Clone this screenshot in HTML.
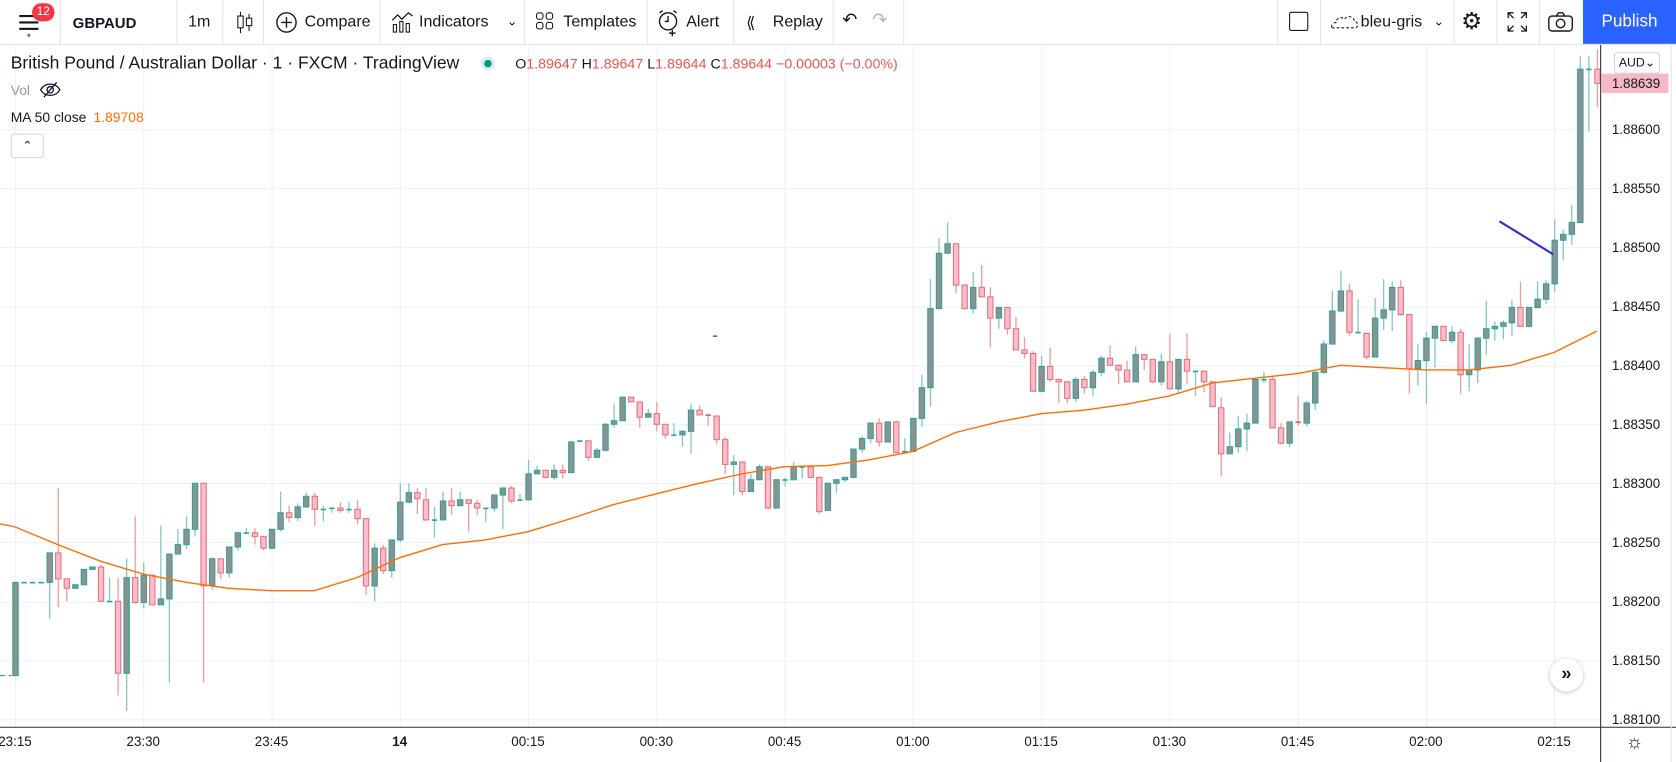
<!DOCTYPE html>
<html><head><meta charset="utf-8">
<style>
html,body{margin:0;padding:0;background:#fff;overflow:hidden;}
#root{position:absolute;left:0;top:0;width:1568px;height:713px;transform:scale(1.06888,1.06872);transform-origin:0 0;font-family:"Liberation Sans",sans-serif;color:#131722;}
.tb{position:absolute;left:0;top:0;width:1568px;height:41px;border-bottom:1px solid #e0e3eb;background:#fff;}
.sep{position:absolute;top:0;width:1px;height:41px;background:#e0e3eb;}
.tt{position:absolute;top:12px;font-size:15px;color:#131722;white-space:nowrap;}
.ico{position:absolute;}
.lg{position:absolute;white-space:nowrap;}
</style></head>
<body>
<div id="root">
<div class="tb">
  <svg class="ico" style="left:16px;top:10px" width="40" height="26"><rect x="2" y="4" width="18" height="2" fill="#131722"/><rect x="2" y="10" width="18" height="2" fill="#131722"/><rect x="2" y="16" width="18" height="2" fill="#131722"/><circle cx="11" cy="23" r="1.5" fill="#787b86"/></svg>
  <div style="position:absolute;left:30px;top:3px;width:21px;height:17px;border-radius:9px;background:#f23645;color:#fff;font-size:11px;text-align:center;line-height:17px;">12</div>
  <div class="sep" style="left:56px"></div>
  <div class="tt" style="left:68px;font-weight:bold;font-size:14px;top:13px">GBPAUD</div>
  <div class="sep" style="left:165px"></div>
  <div class="tt" style="left:176px">1m</div>
  <div class="sep" style="left:208px"></div>
  <svg class="ico" style="left:220px;top:10px" width="18" height="22"><line x1="5" y1="1" x2="5" y2="21" stroke="#131722"/><rect x="2.5" y="5" width="5" height="11" fill="#fff" stroke="#131722"/><line x1="13" y1="3" x2="13" y2="19" stroke="#131722"/><rect x="10.5" y="7" width="5" height="7" fill="#fff" stroke="#131722"/></svg>
  <div class="sep" style="left:246px"></div>
  <svg class="ico" style="left:257px;top:10px" width="22" height="22"><circle cx="11" cy="11" r="9" fill="none" stroke="#131722" stroke-width="1.3"/><path d="M11 6v10M6 11h10" stroke="#131722" stroke-width="1.3"/></svg>
  <div class="tt" style="left:285px">Compare</div>
  <div class="sep" style="left:355px"></div>
  <svg class="ico" style="left:366px;top:9px" width="22" height="22"><path d="M1 10l5-5 4 4 6-6 4 3" fill="none" stroke="#131722" stroke-width="1.2"/><rect x="2" y="14" width="3" height="7" fill="none" stroke="#131722"/><rect x="8" y="11" width="3" height="10" fill="none" stroke="#131722"/><rect x="14" y="13" width="3" height="8" fill="none" stroke="#131722"/></svg>
  <div class="tt" style="left:392px">Indicators</div>
  <div class="tt" style="left:474px;font-size:12px;top:13px">&#8964;</div>
  <div class="sep" style="left:490px"></div>
  <svg class="ico" style="left:501px;top:11px" width="18" height="18"><rect x="1" y="1" width="6" height="6" rx="2" fill="none" stroke="#131722"/><rect x="10" y="1" width="6" height="6" rx="2" fill="none" stroke="#131722"/><rect x="1" y="10" width="6" height="6" rx="2" fill="none" stroke="#131722"/><rect x="10" y="10" width="6" height="6" rx="2" fill="none" stroke="#131722"/></svg>
  <div class="tt" style="left:527px">Templates</div>
  <div class="sep" style="left:605px"></div>
  <svg class="ico" style="left:614px;top:8px" width="24" height="26"><circle cx="11" cy="12" r="8" fill="none" stroke="#131722" stroke-width="1.3"/><path d="M11 7v5h-3M3 4l3-2M19 4l-3-2M15 20v6M12 23h6" stroke="#131722" stroke-width="1.3" fill="none"/></svg>
  <div class="tt" style="left:642px">Alert</div>
  <div class="sep" style="left:686px"></div>
  <div class="tt" style="left:698px;letter-spacing:-3px">&#10216;&#10216;</div>
  <div class="tt" style="left:723px">Replay</div>
  <div class="sep" style="left:779px"></div>
  <div class="tt" style="left:788px;font-size:17px;top:9px">&#8630;</div>
  <div class="tt" style="left:816px;font-size:17px;top:9px;color:#b2b5be">&#8631;</div>
  <div class="sep" style="left:845px"></div>
  <div class="sep" style="left:1195px"></div>
  <div style="position:absolute;left:1206px;top:11px;width:16px;height:16px;border:1.5px solid #131722;border-radius:2px"></div>
  <div class="sep" style="left:1235px"></div>
  <svg class="ico" style="left:1243px;top:11px" width="28" height="18"><path d="M3 15h22c3 0 3-6-1-6 0-5-7-6-9-2-3-3-8-1-8 3-4 0-5 5-4 5z" fill="none" stroke="#131722" stroke-dasharray="2.5 2"/></svg>
  <div class="tt" style="left:1273px">bleu-gris</div>
  <div class="tt" style="left:1341px;font-size:12px;top:13px">&#8964;</div>
  <div class="sep" style="left:1360px"></div>
  <div class="tt" style="left:1367px;font-size:22px;top:7px">&#9881;</div>
  <div class="sep" style="left:1400px"></div>
  <svg class="ico" style="left:1410px;top:11px" width="19" height="19"><path d="M1 6V1h5M1 1l5 5M18 6V1h-5M18 1l-5 5M1 13v5h5M1 18l5-5M18 13v5h-5M18 18l-5-5" fill="none" stroke="#131722" stroke-width="1.2"/></svg>
  <div class="sep" style="left:1440px"></div>
  <svg class="ico" style="left:1448px;top:11px" width="24" height="19"><rect x="1" y="4" width="22" height="14" rx="3" fill="none" stroke="#131722" stroke-width="1.3"/><circle cx="12" cy="11" r="4" fill="none" stroke="#131722" stroke-width="1.3"/><path d="M8 4l2-3h4l2 3" fill="none" stroke="#131722" stroke-width="1.3"/></svg>
  <div style="position:absolute;left:1481px;top:0;width:87px;height:41px;background:#2962ff;color:#fff;font-size:16px;text-align:center;line-height:41px;">Publish</div>
</div>

<svg id="chart" style="position:absolute;left:0;top:0" width="1568" height="713"></svg>

<div class="lg" style="left:10px;top:50px;font-size:16.4px">British Pound / Australian Dollar · 1 · FXCM · TradingView</div>
<div style="position:absolute;left:450px;top:53px;width:13px;height:13px;border-radius:7px;background:#d8efec"><div style="position:absolute;left:3px;top:3px;width:7px;height:7px;border-radius:4px;background:#089981"></div></div>
<div class="lg" style="left:482px;top:52px;font-size:13.3px;color:#ef5350"><span style="color:#131722">O</span>1.89647 <span style="color:#131722">H</span>1.89647 <span style="color:#131722">L</span>1.89644 <span style="color:#131722">C</span>1.89644 −0.00003 (−0.00%)</div>
<div class="lg" style="left:10px;top:77px;font-size:13px;color:#9598a1">Vol</div>
<svg class="ico" style="left:37px;top:76px;position:absolute" width="20" height="16"><path d="M1 8c4-7 14-7 18 0-4 7-14 7-18 0z" fill="none" stroke="#131722" stroke-width="1.2"/><circle cx="10" cy="8" r="3" fill="none" stroke="#131722" stroke-width="1.2"/><line x1="4" y1="15" x2="16" y2="1" stroke="#131722" stroke-width="1.2"/></svg>
<div class="lg" style="left:10px;top:102px;font-size:13px">MA 50 close <span style="color:#ff6d00;margin-left:3px">1.89708</span></div>
<div style="position:absolute;left:10px;top:125px;width:29px;height:21px;border:1px solid #d1d4dc;border-radius:3px;background:#fff;text-align:center;font-size:11px;line-height:22px">&#8963;</div>

<div style="position:absolute;left:1510px;top:49px;width:41px;height:18px;border:1px solid #d1d4dc;border-radius:3px;background:#fff;font-size:11.5px;line-height:18px;text-align:center">AUD&#8964;</div>
<div style="position:absolute;left:1450px;top:616px;width:31px;height:31px;border-radius:16px;background:#fff;box-shadow:0 1px 4px rgba(0,0,0,0.25);text-align:center;line-height:30px;font-size:17px;font-weight:bold;color:#131722">&#187;</div>
<div style="position:absolute;left:1521px;top:684px;font-size:18px;color:#131722">&#9788;</div>
</div>

<script>
const opens=[1.88137,1.88216,1.88216,1.88216,1.88216,1.88241,1.88219,1.88211,1.88214,1.88227,
1.88229,1.88200,1.88200,1.88139,1.88220,1.88199,1.88222,1.88197,1.88202,1.88240,
1.88248,1.88261,1.88300,1.88213,1.88236,1.88224,1.88246,1.88258,1.88258,1.88255,
1.88245,1.88261,1.88275,1.88271,1.88280,1.88289,1.88278,1.88278,1.88279,1.88278,
1.88278,1.88270,1.88213,1.88245,1.88226,1.88252,1.88284,1.88292,1.88286,1.88269,
1.88269,1.88285,1.88281,1.88286,1.88283,1.88279,1.88279,1.88290,1.88296,1.88286,
1.88286,1.88308,1.88311,1.88305,1.88311,1.88309,1.88335,1.88336,1.88322,1.88328,
1.88350,1.88353,1.88373,1.88369,1.88356,1.88359,1.88350,1.88341,1.88341,1.88344,
1.88362,1.88358,1.88357,1.88337,1.88316,1.88318,1.88293,1.88303,1.88314,1.88279,
1.88303,1.88303,1.88314,1.88314,1.88305,1.88277,1.88300,1.88303,1.88305,1.88329,
1.88338,1.88351,1.88335,1.88352,1.88326,1.88327,1.88355,1.88381,1.88448,1.88495,
1.88503,1.88468,1.88448,1.88466,1.88458,1.88440,1.88449,1.88431,1.88413,1.88410,
1.88378,1.88399,1.88388,1.88386,1.88372,1.88388,1.88381,1.88394,1.88406,1.88400,
1.88396,1.88386,1.88409,1.88405,1.88386,1.88403,1.88380,1.88405,1.88395,1.88395,
1.88386,1.88364,1.88325,1.88331,1.88346,1.88351,1.88388,1.88388,1.88347,1.88334,
1.88352,1.88351,1.88368,1.88394,1.88418,1.88446,1.88463,1.88428,1.88427,1.88407,
1.88440,1.88447,1.88466,1.88443,1.88397,1.88404,1.88423,1.88433,1.88421,1.88428,
1.88392,1.88396,1.88423,1.88431,1.88433,1.88436,1.88449,1.88433,1.88449,1.88456,
1.88469,1.88506,1.88511,1.88521,1.88651,1.88651];
const highs=[1.88216,1.88216,1.88216,1.88216,1.88241,1.88296,1.88219,1.88214,1.88227,1.88229,
1.88231,1.88220,1.88220,1.88236,1.88272,1.88233,1.88222,1.88264,1.88240,1.88261,
1.88272,1.88300,1.88300,1.88237,1.88236,1.88246,1.88259,1.88262,1.88262,1.88255,
1.88261,1.88293,1.88281,1.88283,1.88292,1.88292,1.88281,1.88279,1.88284,1.88284,
1.88286,1.88270,1.88249,1.88248,1.88252,1.88300,1.88300,1.88296,1.88296,1.88280,
1.88293,1.88296,1.88293,1.88286,1.88286,1.88279,1.88291,1.88296,1.88298,1.88291,
1.88320,1.88315,1.88311,1.88316,1.88316,1.88336,1.88336,1.88336,1.88330,1.88351,
1.88367,1.88373,1.88373,1.88369,1.88363,1.88369,1.88350,1.88351,1.88345,1.88367,
1.88366,1.88358,1.88357,1.88339,1.88324,1.88318,1.88308,1.88316,1.88314,1.88303,
1.88305,1.88318,1.88315,1.88315,1.88305,1.88300,1.88303,1.88305,1.88329,1.88340,
1.88351,1.88355,1.88352,1.88353,1.88338,1.88355,1.88392,1.88473,1.88508,1.88521,
1.88503,1.88468,1.88479,1.88485,1.88466,1.88449,1.88449,1.88441,1.88424,1.88412,
1.88408,1.88415,1.88388,1.88386,1.88390,1.88391,1.88396,1.88408,1.88417,1.88401,
1.88404,1.88416,1.88409,1.88405,1.88410,1.88427,1.88405,1.88427,1.88395,1.88395,
1.88386,1.88373,1.88343,1.88357,1.88359,1.88388,1.88394,1.88391,1.88351,1.88352,
1.88374,1.88370,1.88395,1.88421,1.88463,1.88480,1.88469,1.88456,1.88428,1.88457,
1.88473,1.88471,1.88472,1.88443,1.88418,1.88428,1.88433,1.88433,1.88433,1.88431,
1.88418,1.88424,1.88455,1.88437,1.88438,1.88455,1.88471,1.88449,1.88471,1.88472,
1.88524,1.88515,1.88536,1.88662,1.88662,1.88668];
const lows=[1.88137,1.88216,1.88216,1.88216,1.88185,1.88195,1.88200,1.88211,1.88214,1.88227,
1.88200,1.88200,1.88120,1.88107,1.88198,1.88194,1.88197,1.88197,1.88131,1.88240,
1.88244,1.88255,1.88131,1.88210,1.88219,1.88220,1.88243,1.88258,1.88248,1.88243,
1.88244,1.88259,1.88267,1.88268,1.88279,1.88264,1.88268,1.88275,1.88275,1.88275,
1.88265,1.88205,1.88200,1.88223,1.88220,1.88250,1.88283,1.88274,1.88268,1.88254,
1.88269,1.88273,1.88281,1.88259,1.88273,1.88267,1.88276,1.88261,1.88283,1.88286,
1.88286,1.88308,1.88305,1.88303,1.88304,1.88309,1.88335,1.88319,1.88322,1.88327,
1.88347,1.88353,1.88369,1.88347,1.88356,1.88344,1.88338,1.88341,1.88331,1.88325,
1.88358,1.88349,1.88333,1.88308,1.88290,1.88290,1.88293,1.88303,1.88278,1.88279,
1.88297,1.88303,1.88304,1.88305,1.88274,1.88277,1.88292,1.88301,1.88305,1.88326,
1.88334,1.88331,1.88335,1.88326,1.88326,1.88327,1.88348,1.88365,1.88448,1.88495,
1.88461,1.88448,1.88444,1.88458,1.88415,1.88431,1.88426,1.88413,1.88406,1.88378,
1.88377,1.88386,1.88368,1.88368,1.88369,1.88376,1.88374,1.88391,1.88400,1.88384,
1.88386,1.88386,1.88396,1.88385,1.88383,1.88380,1.88377,1.88384,1.88374,1.88377,
1.88365,1.88306,1.88325,1.88326,1.88327,1.88351,1.88385,1.88347,1.88333,1.88331,
1.88349,1.88348,1.88362,1.88393,1.88418,1.88445,1.88425,1.88427,1.88405,1.88407,
1.88430,1.88429,1.88442,1.88376,1.88383,1.88367,1.88398,1.88421,1.88419,1.88376,
1.88378,1.88385,1.88409,1.88421,1.88422,1.88425,1.88433,1.88432,1.88448,1.88452,
1.88462,1.88489,1.88502,1.88521,1.88598,1.88619];
const closes=[1.88216,1.88216,1.88216,1.88216,1.88241,1.88219,1.88211,1.88214,1.88227,1.88229,
1.88200,1.88200,1.88139,1.88220,1.88199,1.88222,1.88197,1.88202,1.88240,1.88248,
1.88261,1.88300,1.88213,1.88236,1.88224,1.88246,1.88258,1.88258,1.88255,1.88245,
1.88261,1.88275,1.88271,1.88280,1.88289,1.88278,1.88278,1.88279,1.88277,1.88278,
1.88270,1.88213,1.88245,1.88226,1.88252,1.88284,1.88292,1.88287,1.88269,1.88269,
1.88285,1.88281,1.88286,1.88283,1.88279,1.88279,1.88290,1.88296,1.88285,1.88286,
1.88308,1.88311,1.88305,1.88311,1.88309,1.88335,1.88336,1.88322,1.88328,1.88350,
1.88353,1.88373,1.88369,1.88356,1.88359,1.88350,1.88341,1.88341,1.88344,1.88362,
1.88358,1.88357,1.88337,1.88316,1.88318,1.88293,1.88303,1.88314,1.88279,1.88303,
1.88303,1.88314,1.88314,1.88305,1.88276,1.88300,1.88303,1.88305,1.88329,1.88338,
1.88351,1.88335,1.88352,1.88326,1.88327,1.88355,1.88381,1.88448,1.88495,1.88503,
1.88468,1.88448,1.88466,1.88458,1.88440,1.88449,1.88431,1.88413,1.88410,1.88378,
1.88399,1.88388,1.88386,1.88372,1.88388,1.88381,1.88394,1.88406,1.88400,1.88396,
1.88386,1.88409,1.88405,1.88386,1.88403,1.88380,1.88405,1.88395,1.88395,1.88386,
1.88365,1.88325,1.88331,1.88346,1.88351,1.88388,1.88388,1.88347,1.88334,1.88352,
1.88351,1.88368,1.88394,1.88418,1.88446,1.88463,1.88428,1.88428,1.88407,1.88440,
1.88447,1.88466,1.88443,1.88397,1.88404,1.88423,1.88433,1.88421,1.88428,1.88392,
1.88396,1.88423,1.88431,1.88433,1.88436,1.88449,1.88433,1.88449,1.88456,1.88469,
1.88506,1.88511,1.88521,1.88651,1.88651,1.88639];
const maIndex=[-2,0,5,10,15,20,25,30,35,40,45,50,55,60,65,70,75,80,85,90,95,100,105,110,115,120,125,130,135,140,145,150,155,160,165,170,175,180,185];
const maValues=[1.88266,1.88263,1.88248,1.88234,1.88223,1.88216,1.88211,1.88209,1.88209,1.88220,1.88237,1.88248,1.88252,1.88259,1.88270,1.88282,1.88291,1.88300,1.88308,1.88314,1.88315,1.88320,1.88327,1.88343,1.88352,1.88359,1.88362,1.88367,1.88374,1.88385,1.88389,1.88393,1.88400,1.88398,1.88396,1.88396,1.88400,1.88411,1.88429];
const priceTicks=[1.886,1.8855,1.885,1.8845,1.884,1.8835,1.883,1.8825,1.882,1.8815,1.881];
const priceTickLabels=["1.88600","1.88550","1.88500","1.88450","1.88400","1.88350","1.88300","1.88250","1.88200","1.88150","1.88100"];
const timeTickIndex=[0,15,30,45,60,75,90,105,120,135,150,165,180];
const timeTickLabels=["23:15","23:30","23:45","14","00:15","00:30","00:45","01:00","01:15","01:30","01:45","02:00","02:15"];
const lastPrice=1.88639;
const trendLine=[[173.6,1.88522],[179.9,1.88494]];

const NS="http://www.w3.org/2000/svg";
const svg=document.getElementById('chart');
const PL=0,PR=1497,PT=42,PB=680;
function xOf(i){return 14+8*i;}
function yOf(p){return 121+(1.886-p)/0.0005*55.2;}
function mk(tag,attrs,parent){const e=document.createElementNS(NS,tag);for(const k in attrs)e.setAttribute(k,attrs[k]);(parent||svg).appendChild(e);return e;}

const defs=mk('defs',{});
const cp=mk('clipPath',{id:'plot'},defs);
mk('rect',{x:PL,y:PT,width:PR-PL,height:PB-PT},cp);

const grid=mk('g',{});


priceTicks.forEach(p=>{const y=Math.round(yOf(p))+0.5;if(y>PT&&y<PB)mk('line',{x1:PL,x2:PR,y1:y,y2:y,stroke:'#edf0f5'},grid);});
timeTickIndex.forEach(i=>{const x=Math.round(xOf(i))+0.5;mk('line',{x1:x,x2:x,y1:PT,y2:PB,stroke:'#edf0f5'},grid);});

const plot=mk('g',{'clip-path':'url(#plot)'});
const pre=mk('line',{x1:0,x2:xOf(0)-3,y1:yOf(opens[0]),y2:yOf(opens[0]),stroke:'#26a69a','stroke-dasharray':'5 3'},plot);



const candles=mk('g',{},plot);


for(let i=0;i<opens.length;i++){
  const up=closes[i]>=opens[i];
  const x=xOf(i);
  const g=mk('g',{},candles);
  
  
  const wc=up?'#7fc8c0':'#ef9a9a';
  mk('line',{x1:x+0.5,x2:x+0.5,y1:yOf(highs[i]),y2:yOf(lows[i]),stroke:wc,'stroke-width':1.2},g);
  const yt=yOf(Math.max(opens[i],closes[i])),yb=yOf(Math.min(opens[i],closes[i]));
  const h=Math.max(yb-yt,0.01);
  if(h<1.5){mk('rect',{x:x-2,y:yt-0.5,width:5,height:1.5,fill:up?'#26a69a':'#ef5350'},g);}
  else mk('rect',{x:x-2,y:yt,width:5,height:h,fill:up?'#909090':'#f8bbd0',stroke:up?'#26a69a':'#e57373','stroke-width':1},g);
}
let d='';
maIndex.forEach((i,k)=>{d+=(k?'L':'M')+xOf(i).toFixed(1)+' '+yOf(maValues[k]).toFixed(1);});
const ma=mk('path',{d:d,fill:'none',stroke:'#ff6d00','stroke-width':1.3},plot);


const tl=mk('line',{x1:xOf(trendLine[0][0]),y1:yOf(trendLine[0][1]),x2:xOf(trendLine[1][0]),y2:yOf(trendLine[1][1]),stroke:'#3030c8','stroke-width':2},plot);


mk('line',{x1:667,x2:671,y1:314.5,y2:314.5,stroke:'#131722'},plot);

const ax=mk('g',{});


mk('line',{x1:PR+0.5,x2:PR+0.5,y1:PT,y2:713,stroke:'#2a2e39'},ax);
mk('line',{x1:0,x2:1568,y1:PB+0.5,y2:PB+0.5,stroke:'#2a2e39'},ax);
mk('line',{x1:1563.5,x2:1563.5,y1:PT,y2:713,stroke:'#e0e3eb'},ax);
priceTicks.forEach((p,k)=>{const y=yOf(p);if(y<PT+40)return;
  const t=mk('text',{x:1508,y:y+4.5,'font-size':12.5,fill:'#131722','font-family':'Liberation Sans, sans-serif'},ax);
  
  
  t.textContent=priceTickLabels[k];});
timeTickIndex.forEach((i,k)=>{
  const t=mk('text',{x:xOf(i),y:698,'font-size':12.5,fill:'#131722','text-anchor':'middle','font-family':'Liberation Sans, sans-serif','font-weight':timeTickLabels[k]==='14'?'bold':'normal'},ax);
  
  
  t.textContent=timeTickLabels[k];});
const ly=yOf(lastPrice);
const lb=mk('rect',{x:PR+1,y:ly-9,width:63,height:18,fill:'#f7b7c5'},ax);


const lt=mk('text',{x:1508,y:ly+4.5,'font-size':12.5,fill:'#131722','font-family':'Liberation Sans, sans-serif'},ax);


lt.textContent=lastPrice.toFixed(5);
</script>
</body></html>
